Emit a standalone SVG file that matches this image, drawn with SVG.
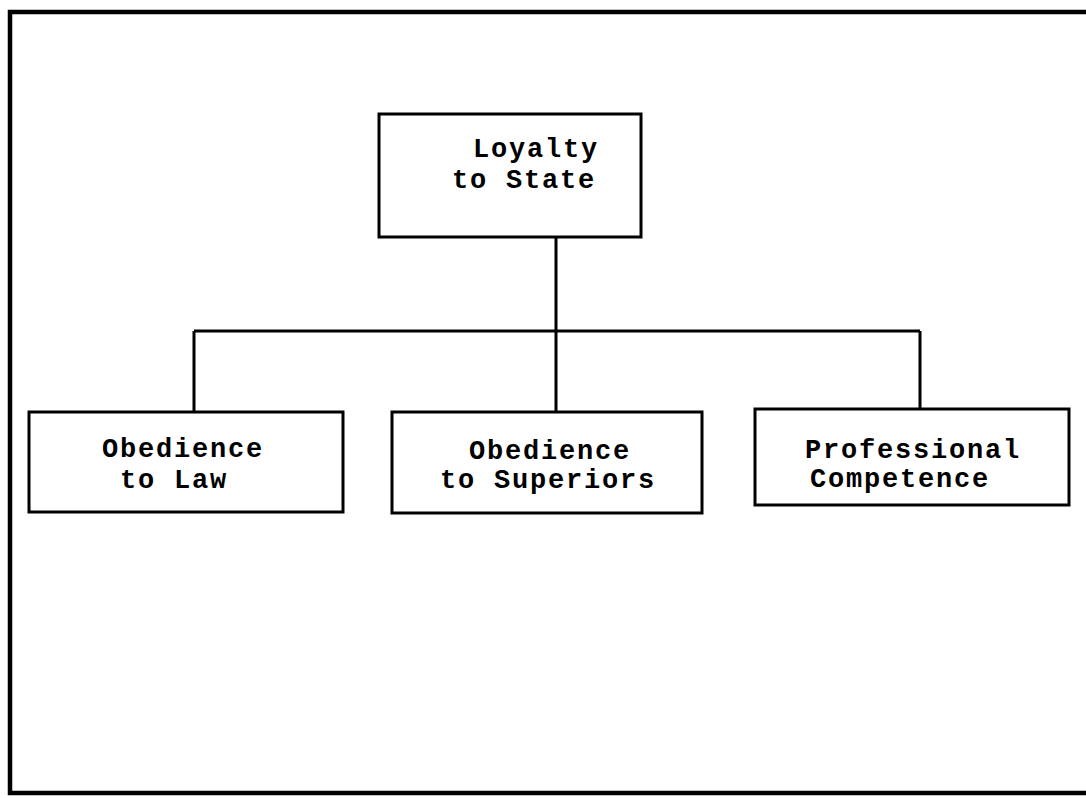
<svg xmlns="http://www.w3.org/2000/svg" width="1086" height="798" viewBox="0 0 1086 798">
<style>
.box{fill:#fff;stroke:#000;stroke-width:3}
.frame{fill:none;stroke:#000;stroke-width:4.5}
.conn{fill:none;stroke:#000;stroke-width:3}
.t{font-family:"Liberation Mono","Courier New",monospace;font-weight:bold;font-size:27px;letter-spacing:1.8px;fill:#000}
</style>
<rect width="1086" height="798" fill="#fff"/>
<rect class="frame" x="10" y="12" width="1090" height="781"/>
<g id="connectors">
<path class="conn" d="M556 237 V331 M194 331 H920 M194 331 V412 M556 331 V412 M920 331 V409"/>
</g>
<g id="loyalty">
<rect class="box" x="379" y="114" width="262" height="123"/>
<text class="t" x="473" y="157">Loyalty</text>
<text class="t" x="452" y="188">to State</text>
</g>
<g id="law">
<rect class="box" x="29" y="412" width="314" height="100"/>
<text class="t" x="102" y="457">Obedience</text>
<text class="t" x="120" y="488">to Law</text>
</g>
<g id="superiors">
<rect class="box" x="392" y="412" width="310" height="101"/>
<text class="t" x="469" y="459">Obedience</text>
<text class="t" x="440" y="488">to Superiors</text>
</g>
<g id="competence">
<rect class="box" x="755" y="409" width="314" height="96"/>
<text class="t" x="805" y="458">Professional</text>
<text class="t" x="810" y="487">Competence</text>
</g>
</svg>
